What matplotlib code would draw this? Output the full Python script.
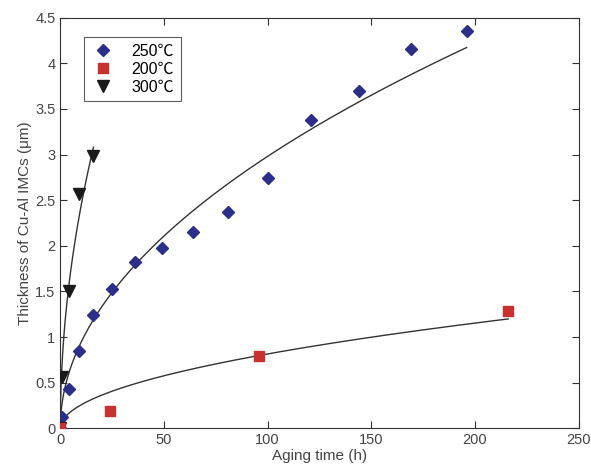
import matplotlib
matplotlib.use("Agg")
import matplotlib.pyplot as plt
import numpy as np

plt.rcParams['font.family'] = ['Liberation Sans', 'DejaVu Sans']

# measured thickness (um) vs aging time (h)
t_250 = [0, 1, 4, 9, 16, 25, 36, 49, 64, 81, 100, 121, 144, 169, 196]
y_250 = [0.0, 0.12, 0.43, 0.85, 1.24, 1.53, 1.82, 1.98, 2.15, 2.37, 2.74, 3.38, 3.70, 4.16, 4.35]
t_200 = [0, 24, 96, 216]
y_200 = [0.0, 0.19, 0.79, 1.29]
t_300 = [0, 1, 4, 9, 16]
y_300 = [0.0, 0.565, 1.50, 2.57, 2.98]

# parabolic growth fits y = k * sqrt(t), drawn up to the last aging time
fit_k = {'250': 0.298, '200': 0.0816, '300': 0.77}
fit_end = {'250': 196, '200': 216, '300': 16}

labels = ['250\u2103', '200\u2103', '300\u2103']
xticks = [0, 50, 100, 150, 200, 250]
yticks = [0, 0.5, 1, 1.5, 2, 2.5, 3, 3.5, 4, 4.5]
ytick_labels = ['0', '0.5', '1', '1.5', '2', '2.5', '3', '3.5', '4', '4.5']

fig = plt.figure(figsize=(5.91, 4.75), dpi=100)
ax = fig.add_axes([0.102, 0.098, 0.877, 0.865])

for key in ['250', '200', '300']:
    tt = np.linspace(0, fit_end[key], 400)
    ax.plot(tt, fit_k[key] * np.sqrt(tt), color='#333333', lw=1.0, zorder=2)

ax.plot(t_250, y_250, 'D', color='#2b2f8a', ms=6.5, ls='none', label=labels[0], zorder=3)
ax.plot(t_300, y_300, 'v', color='#1a1a1a', ms=8, ls='none', label=labels[2], zorder=3)
ax.plot(t_200, y_200, 's', color='#c8312e', ms=7, ls='none', label=labels[1], zorder=4)

h, l = ax.get_legend_handles_labels()
order = [0, 2, 1]
leg = ax.legend([h[i] for i in order], [l[i] for i in order], loc='upper left',
                bbox_to_anchor=(0.03, 0.972), fancybox=False, edgecolor='#333333',
                handletextpad=1.0, borderpad=0.4, labelspacing=0.2, handlelength=1.6,
                prop={'family': ['Liberation Sans', 'Noto Sans CJK SC', 'DejaVu Sans'], 'size': 11.5})
leg.get_frame().set_linewidth(0.8)

ax.set_xlim(0, 250)
ax.set_ylim(0, 4.5)
ax.set_xticks(xticks)
ax.set_yticks(yticks)
ax.set_yticklabels(ytick_labels)
ax.tick_params(direction='in', top=True, right=True, length=5, labelsize=10.5,
               colors='#333333', labelcolor='#444444')
for s in ax.spines.values():
    s.set_color('#333333')
    s.set_linewidth(0.8)

ax.set_xlabel('Aging time (h)', fontsize=11, color='#444444', labelpad=1)
ax.set_ylabel('Thickness of Cu-Al IMCs (\u03bcm)', fontsize=11, color='#444444', labelpad=2)

fig.savefig('out.png', dpi=100)
